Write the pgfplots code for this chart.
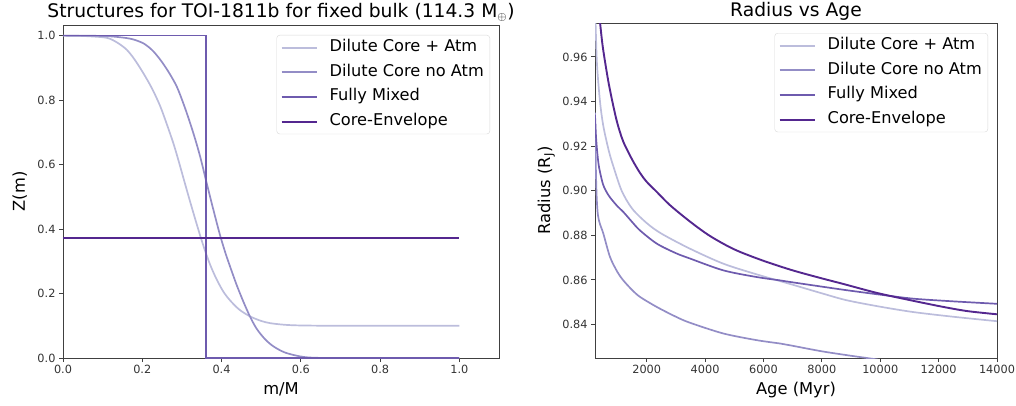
\documentclass[border=0pt]{standalone}
\usepackage{fontspec}
\setmainfont{DejaVu Sans}
\usepackage{pgfplots}
\pgfplotsset{compat=1.18}
\definecolor{cA}{HTML}{BCBDDC}
\definecolor{cB}{HTML}{938DC6}
\definecolor{cC}{HTML}{6E5BAE}
\definecolor{cD}{HTML}{54278F}
\definecolor{axc}{HTML}{404040}
\pgfplotsset{
  every axis/.append style={
    scale only axis,
    scaled ticks=false,
    axis line style={axc, line width=0.9pt},
    tick align=outside,
    tick pos=left,
    major tick length=4pt,
    every tick/.style={axc, line width=0.9pt},
    tick label style={font=\fontsize{11.3}{13}\selectfont, text=black!80},
    /pgf/number format/assume math mode=true,
    label style={font=\fontsize{16.3}{19}\selectfont},
    title style={font=\fontsize{18.7}{22}\selectfont, at={(0.5,1)}, anchor=base, yshift=1pt},
    xlabel style={at={(axis description cs:0.5,0)}, anchor=base, yshift=-36pt},
    legend cell align=left,
    legend image code/.code={\draw[#1, line width=2pt] (0pt,0pt) -- (35pt,0pt); \path (45pt,0pt);},
    legend style={at={(1,1)}, anchor=north east, xshift=-9pt, yshift=-10pt,
      draw=black!15, fill=white, rounded corners=3pt,
      font=\fontsize{16.2}{19}\selectfont,
      nodes={text height=12pt, text depth=4pt, inner sep=2pt},
      row sep=4.6pt, inner xsep=4pt, inner ysep=2.5pt},
  },
}
\begin{document}
\begin{tikzpicture}
\useasboundingbox (-63pt,-47pt) rectangle (953pt,358pt);
% ---------------- left ----------------
\begin{axis}[
  at={(0pt,0pt)}, anchor=south west,
  width=436pt, height=333pt,
  xmin=0, xmax=1.1, ymin=0, ymax=1.033,
  xtick={0,0.2,0.4,0.6,0.8,1.0},
  ytick={0,0.2,0.4,0.6,0.8,1.0},
  xticklabel style={/pgf/number format/fixed, /pgf/number format/fixed zerofill, /pgf/number format/precision=1},
  yticklabel style={/pgf/number format/fixed, /pgf/number format/fixed zerofill, /pgf/number format/precision=1},
  title={Structures for TOI-1811b for fixed bulk (114.3 M\textsubscript{$\oplus$})},
  xlabel={m/M},
  ylabel={Z(m)},
  ylabel style={at={(axis description cs:0,0.5)}, anchor=base, yshift=38pt},
]
\addplot[cA, line width=1.7pt, smooth] coordinates {
(0,1.0) (0.05,0.999) (0.1,0.995) (0.119,0.99) (0.14,0.976) (0.161,0.956) (0.18,0.927)
(0.203,0.883) (0.225,0.835) (0.245,0.782) (0.262,0.725) (0.279,0.664) (0.292,0.61)
(0.305,0.553) (0.32,0.488) (0.335,0.425) (0.348,0.372) (0.36,0.327) (0.373,0.284)
(0.388,0.243) (0.405,0.205) (0.422,0.178) (0.445,0.150) (0.472,0.129) (0.5,0.115)
(0.523,0.108) (0.56,0.103) (0.6,0.101) (0.7,0.1) (1.0,0.1)};
\addlegendentry{Dilute Core + Atm}
\addplot[cB, line width=1.7pt, smooth] coordinates {
(0,1) (0.1,0.999) (0.144,0.995) (0.175,0.989) (0.203,0.976) (0.225,0.955) (0.245,0.926)
(0.265,0.89) (0.287,0.842) (0.308,0.775) (0.329,0.697) (0.346,0.625) (0.363,0.54)
(0.38,0.457) (0.396,0.382) (0.41,0.325) (0.422,0.282) (0.438,0.227) (0.455,0.175)
(0.472,0.128) (0.489,0.09) (0.51,0.058) (0.531,0.036) (0.56,0.017) (0.598,0.005)
(0.63,0.001) (0.7,0) (1.0,0)};
\addlegendentry{Dilute Core no Atm}
\addplot[cC, line width=1.7pt] coordinates {
(0,1) (0.36,1) (0.36,0) (1.0,0)};
\addlegendentry{Fully Mixed}
\addplot[cD, line width=1.9pt] coordinates {
(0,0.372) (1.0,0.372)};
\addlegendentry{Core-Envelope}
\end{axis}
% ---------------- right ----------------
\begin{axis}[
  at={(532pt,0pt)}, anchor=south west,
  width=402pt, height=335pt,
  xmin=229, xmax=14000, ymin=0.825, ymax=0.9752,
  xtick={2000,4000,6000,8000,10000,12000,14000},
  ytick={0.84,0.86,0.88,0.90,0.92,0.94,0.96},
  xticklabel style={/pgf/number format/1000 sep={}},
  yticklabel style={/pgf/number format/fixed, /pgf/number format/fixed zerofill, /pgf/number format/precision=2},
  title={Radius vs Age},
  xlabel={Age (Myr)},
  ylabel={Radius (R\textsubscript{J})},
  ylabel style={at={(axis description cs:0,0.5)}, anchor=base, yshift=45pt},
]
\addplot[cA, line width=1.7pt, smooth] coordinates {
(229,0.985) (260,0.970) (300,0.956) (400,0.940) (514,0.929) (700,0.918) (856,0.911)
(1142,0.900) (1500,0.892) (2000,0.8855) (2500,0.8808) (3484,0.874) (4624,0.8673)
(5768,0.8625) (6909,0.8582) (8000,0.854) (8850,0.8509) (10000,0.848) (11134,0.8456)
(12500,0.8435) (14000,0.8415)};
\addlegendentry{Dilute Core + Atm}
\addplot[cB, line width=1.7pt, smooth] coordinates {
(229,0.935) (245,0.92) (265,0.906) (290,0.896) (330,0.889) (400,0.885) (514,0.8808)
(743,0.8703) (1000,0.8635) (1198,0.8598) (1500,0.8555) (1770,0.8524) (2343,0.8479)
(3000,0.8435) (3484,0.8408) (4624,0.836) (5768,0.833) (6567,0.8315) (6909,0.8307)
(8000,0.828) (9000,0.826) (9650,0.8248) (10500,0.8232) (11000,0.8225)};
\addlegendentry{Dilute Core no Atm}
\addplot[cC, line width=1.7pt, smooth] coordinates {
(229,0.934) (260,0.925) (300,0.918) (350,0.912) (400,0.9084) (500,0.903) (600,0.900)
(743,0.897) (1000,0.893) (1198,0.8905) (1500,0.886) (1770,0.8822) (2343,0.8763)
(3000,0.872) (3484,0.8696) (4624,0.8643) (5768,0.8613) (6567,0.8598) (6909,0.8591)
(8000,0.857) (8850,0.8554) (10000,0.8534) (11134,0.8516) (12500,0.8504) (14000,0.8493)};
\addlegendentry{Fully Mixed}
\addplot[cD, line width=1.9pt, smooth] coordinates {
(380,0.978) (400,0.9756) (480,0.966) (571,0.958) (700,0.948) (856,0.938) (1000,0.930)
(1198,0.922) (1500,0.914) (1770,0.908) (2000,0.904) (2343,0.8995) (2800,0.8935)
(3500,0.886) (4169,0.8797) (5000,0.8737) (5995,0.8686) (7000,0.8643) (8000,0.8607)
(8735,0.8582) (9880,0.8542) (11000,0.851) (12161,0.8479) (13000,0.846) (14000,0.8446)};
\addlegendentry{Core-Envelope}
\end{axis}
\end{tikzpicture}
\end{document}
